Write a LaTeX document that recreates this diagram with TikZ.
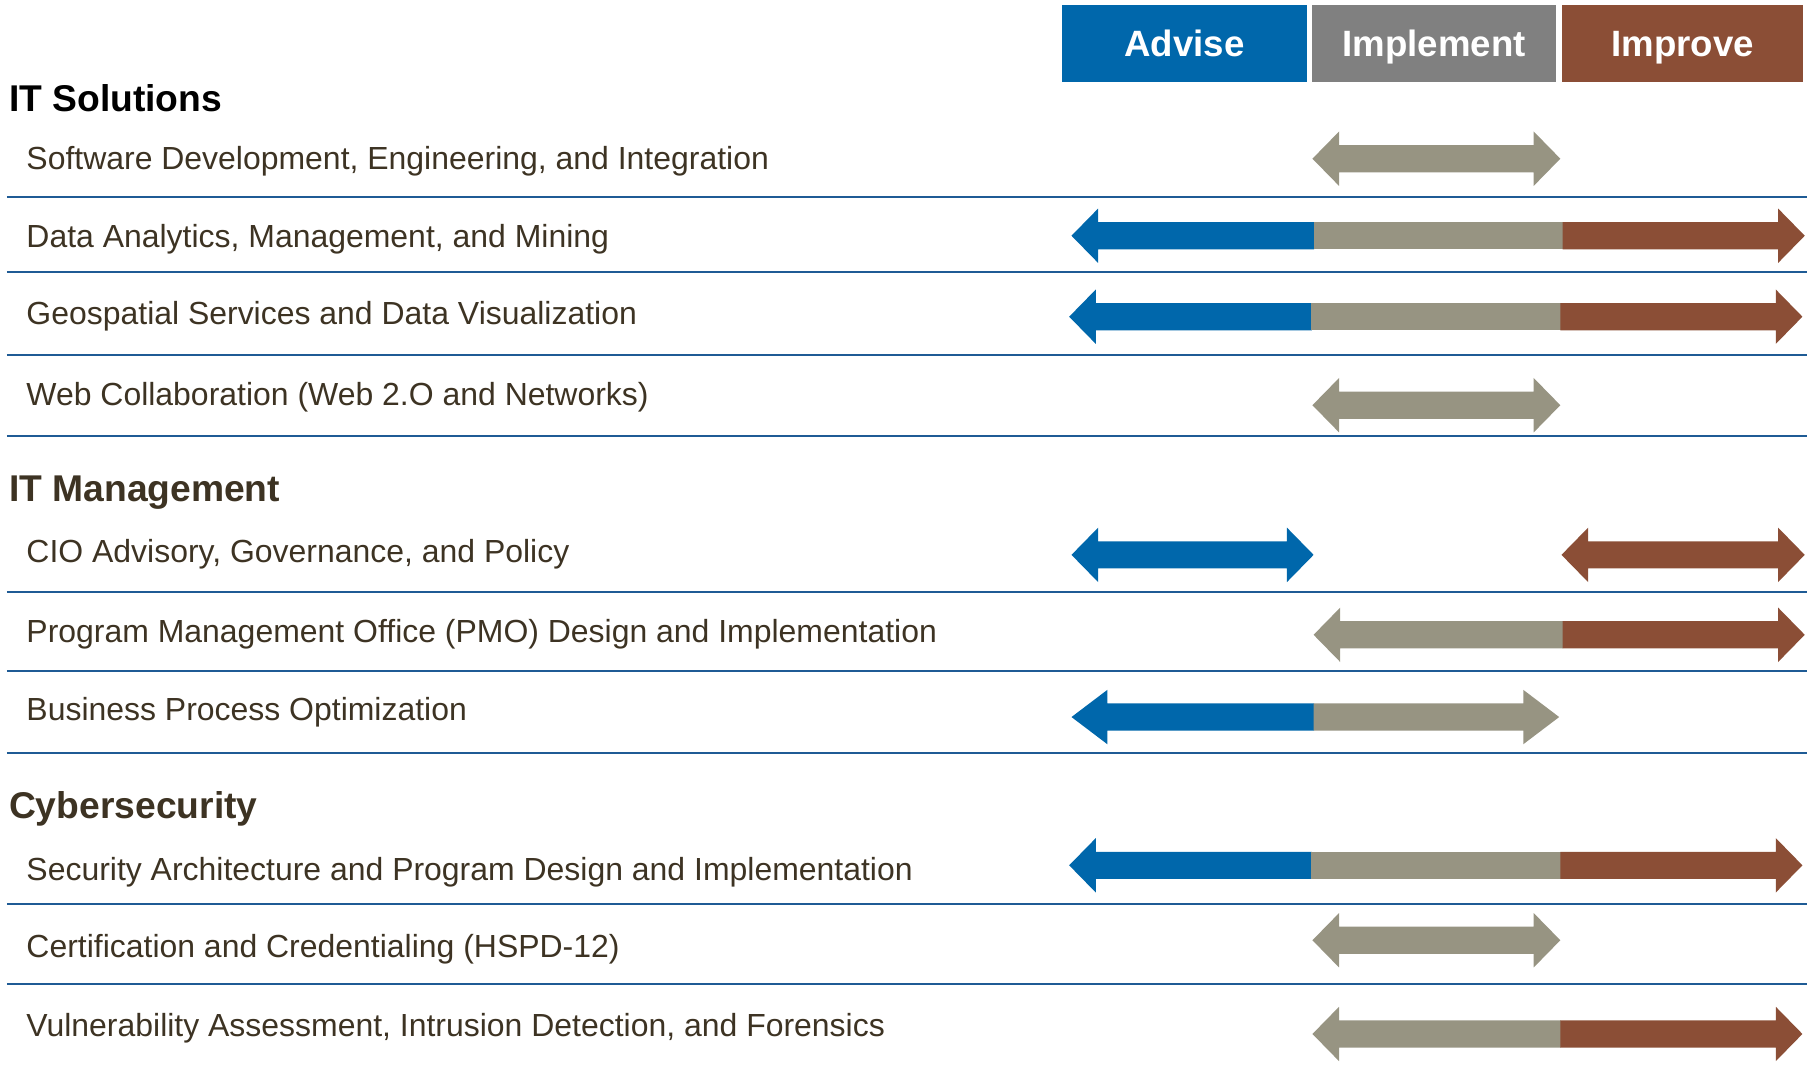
\documentclass[tikz,border=0pt]{standalone}
\usepackage{fontspec}
\setmainfont{Liberation Sans}
\usetikzlibrary{positioning}

\definecolor{adviseblue}{HTML}{0067AB}
\definecolor{implgray}{HTML}{808080}
\definecolor{improvebrown}{HTML}{8B4E36}
\definecolor{arrowgray}{HTML}{979482}
\definecolor{rulecol}{HTML}{1F5B95}
\definecolor{itemtext}{HTML}{3D3323}

% arrow pieces: colour, x from, x to, y, head length
\newcommand{\lpiece}[5]{\fill[#1] (#2,#4) -- (#2+#5,#4-23.5) -- (#2+#5,#4-11.7) -- (#3,#4-11.7) -- (#3,#4+11.7) -- (#2+#5,#4+11.7) -- (#2+#5,#4+23.5) -- cycle;}
\newcommand{\rpiece}[5]{\fill[#1] (#3,#4) -- (#3-#5,#4-23.5) -- (#3-#5,#4-11.7) -- (#2,#4-11.7) -- (#2,#4+11.7) -- (#3-#5,#4+11.7) -- (#3-#5,#4+23.5) -- cycle;}
\newcommand{\mpiece}[4]{\fill[#1] (#2,#4-11.7) rectangle (#3,#4+11.7);}
\newcommand{\dblarrow}[5]{\fill[#1] (#2,#4) -- (#2+#5,#4-23.5) -- (#2+#5,#4-11.7) -- (#3-#5,#4-11.7) -- (#3-#5,#4-23.5) -- (#3,#4) -- (#3-#5,#4+23.5) -- (#3-#5,#4+11.7) -- (#2+#5,#4+11.7) -- (#2+#5,#4+23.5) -- cycle;}

\tikzset{
	hdr/.style={minimum height=1.334cm, inner sep=0, text=white, text height=12.9pt, text depth=0pt, font=\fontsize{18}{20}\selectfont\bfseries},
	sect/.style={anchor=base west, inner sep=0, text=itemtext, font=\fontsize{18.3}{21}\selectfont\bfseries},
	item/.style={anchor=base west, inner sep=0, text=itemtext, font=\fontsize{15.7}{18}\selectfont},
	sep/.style={draw=rulecol, line width=0.9pt}
}

\begin{document}
\begin{tikzpicture}[x=0.02cm, y=-0.02cm]
	\useasboundingbox (0,0) rectangle (1566,924.6);
	\node[hdr, fill=adviseblue, minimum width=4.22cm] (ADV) at (1022.5,37.7) {Advise};
	\node[hdr, fill=implgray, minimum width=4.2cm] (IMP) at (1238,37.7) {Implement};
	\node[hdr, fill=improvebrown, minimum width=4.16cm] (IMV) at (1452.5,37.7) {Improve};
	\foreach \y in {170,234.5,306.5,376.5,511,579.5,650,780.5,849.5}
		\draw[sep] (6,\y) -- (1560,\y);
	% IT Solutions
	\node[sect, text=black] (SOL) at (7.5,96) {IT Solutions};
	\node[item] (SW) at (22.5,146.4) {Software Development, Engineering, and Integration};
	\node[item] (DA) at (22.5,213.8) {Data Analytics, Management, and Mining};
	\node[item] (GEO) at (22.5,279.8) {Geospatial Services and Data Visualization};
	\node[item] (WEB) at (22.5,350.4) {Web Collaboration (Web 2.O and Networks)};
	\dblarrow{arrowgray}{1133}{1347}{137}{23}
	\lpiece{adviseblue}{925}{1134.5}{203.5}{23}
	\mpiece{arrowgray}{1134}{1349.5}{203.5}
	\rpiece{improvebrown}{1349}{1558}{203.5}{23}
	\lpiece{adviseblue}{923}{1132.5}{273.4}{23}
	\mpiece{arrowgray}{1132}{1347.5}{273.4}
	\rpiece{improvebrown}{1347}{1556}{273.4}{23}
	\dblarrow{arrowgray}{1133}{1347}{349.8}{23}
	% IT Management
	\node[sect] (MGT) at (7.5,432.5) {IT Management};
	\node[item] (CIO) at (22.5,485.8) {CIO Advisory, Governance, and Policy};
	\node[item] (PMO) at (22.5,554.8) {Program Management Office (PMO) Design and Implementation};
	\node[item] (BPO) at (22.5,621.6) {Business Process Optimization};
	\dblarrow{adviseblue}{925}{1134}{479}{23}
	\dblarrow{improvebrown}{1348}{1558}{479}{23}
	\lpiece{arrowgray}{1134}{1349.5}{548}{23}
	\rpiece{improvebrown}{1349}{1558}{548}{23}
	\lpiece{adviseblue}{925}{1134.5}{619}{31}
	\rpiece{arrowgray}{1134}{1346}{619}{31}
	% Cybersecurity
	\node[sect] (CYB) at (7.5,706.3) {Cybersecurity};
	\node[item] (SEC) at (22.5,760.5) {Security Architecture and Program Design and Implementation};
	\node[item] (CERT) at (22.5,826.8) {Certification and Credentialing (HSPD-12)};
	\node[item] (VULN) at (22.5,894.4) {Vulnerability Assessment, Intrusion Detection, and Forensics};
	\lpiece{adviseblue}{923}{1132.5}{747}{23}
	\mpiece{arrowgray}{1132}{1347.5}{747}
	\rpiece{improvebrown}{1347}{1556}{747}{23}
	\dblarrow{arrowgray}{1133}{1347}{811.7}{23}
	\lpiece{arrowgray}{1133}{1347.5}{892.6}{23}
	\rpiece{improvebrown}{1347}{1556}{892.6}{23}
\end{tikzpicture}
\end{document}
